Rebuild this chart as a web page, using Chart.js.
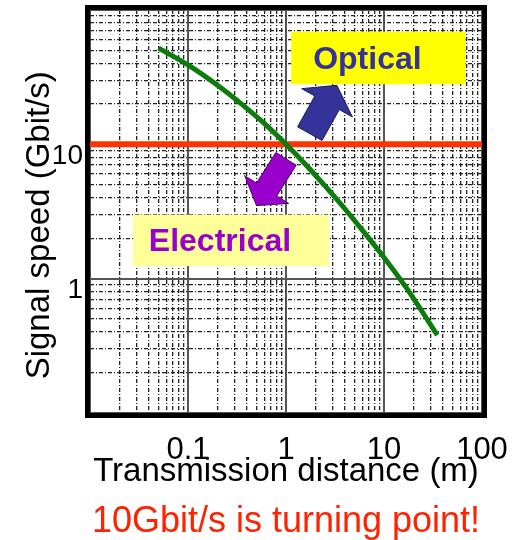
<!DOCTYPE html>
<html>
<head>
<meta charset="utf-8">
<script src="https://cdn.jsdelivr.net/npm/chart.js@4.4.1/dist/chart.umd.min.js"></script>
<style>
  html, body { margin: 0; padding: 0; background: #fff; }
  #wrap { width: 517px; height: 540px; }
</style>
</head>
<body>
<div id="wrap"><canvas id="chart"></canvas></div>
<script>
// green curve: transmission distance (m) -> signal speed (Gbit/s)
const curveX = [0.05, 0.1, 0.2, 0.35, 0.6, 1, 1.7, 2.5, 4, 6, 10, 17, 35];
const curveY = [52, 39, 27.5, 20, 14.3, 10, 6.7, 4.9, 3.3, 2.3, 1.44, 0.85, 0.38];

// red 10 Gbit/s line
const limitX = [0.01, 100];
const limitY = [10, 10];

// axis ranges and labelled ticks
const xRange = [0.01, 100];
const yRange = [0.1, 100];
const xTickValues = [0.1, 1, 10, 100];
const xTickLabels = ['0.1', '1', '10', '100'];
const yTickValues = [1, 10];
const yTickLabels = ['1', '10'];

const FONT = "'Liberation Sans', Arial, sans-serif";

// annotations, placed in data units
const boxes = [
  { text: 'Optical', x: [1.13, 68], y: [28, 69], fill: '#ffff00', color: '#333399' },
  { text: 'Electrical', x: [0.0274, 2.75], y: [1.24, 3.0], fill: '#ffff99', color: '#9900cc' }
];
const arrows = [
  { from: [1.75, 12.0], to: [3.3, 27.5], shaft: 28, head: 58, headLen: 20, fill: '#333399', line: '#1a1a55' },
  { from: [1.0, 7.8], to: [0.5, 3.5], shaft: 24, head: 52, headLen: 19, fill: '#9900cc', line: '#4d0066' }
];

function logGrid(min, max) {
  const vals = [];
  for (let e = Math.floor(Math.log10(min)); e <= Math.ceil(Math.log10(max)); e++) {
    for (let m = 1; m < 10; m++) {
      const v = Number((m * Math.pow(10, e)).toPrecision(6));
      if (v >= min * 0.999 && v <= max * 1.001) vals.push(v);
    }
  }
  return vals;
}

function isDecade(v) {
  const l = Math.log10(v);
  return Math.abs(l - Math.round(l)) < 1e-6;
}

function labelFor(values, labels, v) {
  const i = values.findIndex(t => Math.abs(t - v) < t * 1e-6);
  return i < 0 ? '' : labels[i];
}

const gridOpts = {
  drawTicks: false,
  color: c => (c.tick && isDecade(c.tick.value)) ? '#555' : '#222',
  lineWidth: c => (c.tick && isDecade(c.tick.value)) ? 2 : 1.3
};
const borderOpts = {
  display: false,
  dash: c => (c.tick && !isDecade(c.tick.value)) ? [4, 2, 1, 2] : []
};

function drawArrow(ctx, xs, ys, a) {
  const tx = xs.getPixelForValue(a.from[0]), ty = ys.getPixelForValue(a.from[1]);
  const px = xs.getPixelForValue(a.to[0]), py = ys.getPixelForValue(a.to[1]);
  const len = Math.hypot(px - tx, py - ty);
  const dx = (px - tx) / len, dy = (py - ty) / len;
  const nx = -dy, ny = dx;
  const bx = px - dx * a.headLen, by = py - dy * a.headLen;
  const s = a.shaft / 2, h = a.head / 2;
  ctx.beginPath();
  ctx.moveTo(tx + nx * s, ty + ny * s);
  ctx.lineTo(bx + nx * s, by + ny * s);
  ctx.lineTo(bx + nx * h, by + ny * h);
  ctx.lineTo(px, py);
  ctx.lineTo(bx - nx * h, by - ny * h);
  ctx.lineTo(bx - nx * s, by - ny * s);
  ctx.lineTo(tx - nx * s, ty - ny * s);
  ctx.closePath();
  ctx.fillStyle = a.fill;
  ctx.fill();
  ctx.lineWidth = 1;
  ctx.strokeStyle = a.line;
  ctx.stroke();
}

const annotationPlugin = {
  id: 'annotations',
  afterDatasetsDraw(chart) {
    const ctx = chart.ctx, xs = chart.scales.x, ys = chart.scales.y;
    ctx.save();
    arrows.forEach(a => drawArrow(ctx, xs, ys, a));
    boxes.forEach(b => {
      const l = xs.getPixelForValue(b.x[0]), r = xs.getPixelForValue(b.x[1]);
      const t = ys.getPixelForValue(b.y[1]), btm = ys.getPixelForValue(b.y[0]);
      ctx.fillStyle = b.fill;
      ctx.fillRect(l, t, r - l, btm - t);
      ctx.fillStyle = b.color;
      ctx.font = 'bold 32px ' + FONT;
      ctx.textAlign = 'center';
      ctx.textBaseline = 'middle';
      ctx.fillText(b.text, (l + r) / 2 - 11, (t + btm) / 2 + 2);
    });
    ctx.restore();
  },
  afterDraw(chart) {
    const { left, top, right, bottom } = chart.chartArea;
    const ctx = chart.ctx;
    ctx.save();
    ctx.lineWidth = 5;
    ctx.strokeStyle = '#000';
    ctx.strokeRect(left - 2.5, top - 2.5, right - left + 5, bottom - top + 5);
    ctx.restore();
  }
};

new Chart(document.getElementById('chart'), {
  type: 'line',
  data: {
    datasets: [
      {
        label: 'Signal speed',
        data: curveX.map((x, i) => ({ x: x, y: curveY[i] })),
        borderColor: '#0c7c0c',
        borderWidth: 5,
        pointRadius: 0,
        cubicInterpolationMode: 'monotone',
        order: 0
      },
      {
        label: '10 Gbit/s',
        data: limitX.map((x, i) => ({ x: x, y: limitY[i] })),
        borderColor: '#ff3300',
        borderWidth: 6,
        pointRadius: 0,
        order: 1
      }
    ]
  },
  options: {
    responsive: true,
    maintainAspectRatio: false,
    animation: false,
    layout: { padding: { top: 10, right: 35, left: 0, bottom: 0 } },
    plugins: {
      legend: { display: false },
      tooltip: { enabled: false },
      title: {
        display: true,
        position: 'bottom',
        fullSize: false,
        text: '10Gbit/s is turning point!',
        color: '#ff2200',
        font: { size: 36, family: FONT, weight: 'normal', lineHeight: 1 },
        padding: 0
      }
    },
    scales: {
      x: {
        type: 'logarithmic',
        min: xRange[0],
        max: xRange[1],
        afterBuildTicks: s => { s.ticks = logGrid(xRange[0], xRange[1]).map(v => ({ value: v })); },
        afterFit: s => { s.height = 91; s.paddingLeft = 0; s.paddingRight = 0; },
        grid: gridOpts,
        border: borderOpts,
        ticks: {
          autoSkip: false, maxRotation: 0, minRotation: 0, padding: 19, color: '#000',
          font: { size: 31, family: FONT },
          callback: v => labelFor(xTickValues, xTickLabels, v)
        },
        title: {
          display: true, text: 'Transmission distance (m)', color: '#000',
          font: { size: 33, family: FONT }, padding: { top: 0, bottom: 12 }
        }
      },
      y: {
        type: 'logarithmic',
        min: yRange[0],
        max: yRange[1],
        afterBuildTicks: s => { s.ticks = logGrid(yRange[0], yRange[1]).map(v => ({ value: v })); },
        afterFit: s => { s.width = 90; s.paddingTop = 0; s.paddingBottom = 0; },
        grid: gridOpts,
        border: borderOpts,
        ticks: {
          autoSkip: false, padding: 7, labelOffset: 12, color: '#000',
          font: { size: 28, family: FONT },
          callback: v => labelFor(yTickValues, yTickLabels, v)
        },
        title: {
          display: true, text: 'Signal speed (Gbit/s)   ', color: '#000',
          font: { size: 33, family: FONT }, padding: { top: 20, bottom: 0 }
        }
      }
    }
  },
  plugins: [annotationPlugin]
});
</script>
</body>
</html>
